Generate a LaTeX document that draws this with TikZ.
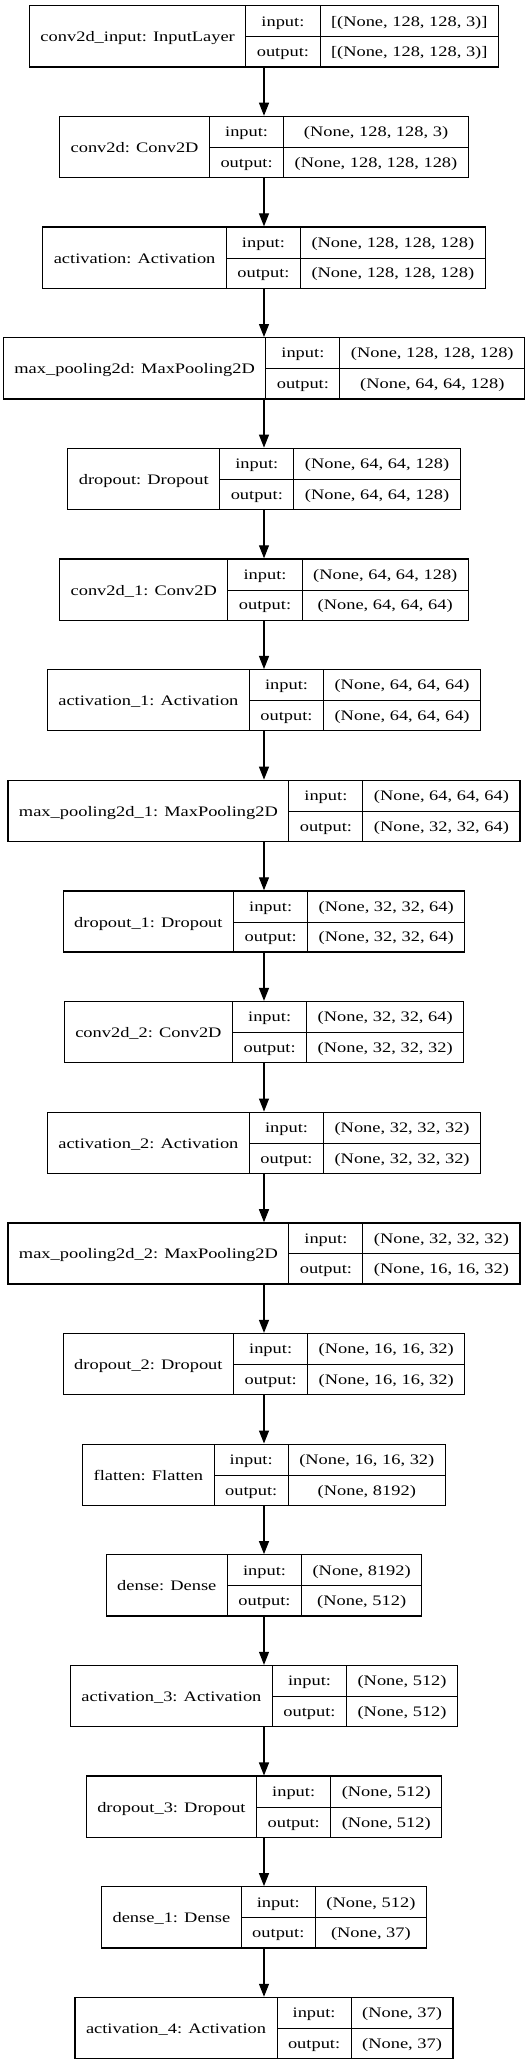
\documentclass[tikz,border=0pt]{standalone}
\usepackage{fontspec}
\setmainfont[FakeStretch=1.27]{Liberation Serif}
\usetikzlibrary{arrows.meta}
\setlength{\tabcolsep}{11pt}
\setlength{\arrayrulewidth}{1pt}
\def\rowstrut{\rule[-10.3pt]{0pt}{30.6pt}}
\def\layer#1#2#3{\begin{tabular}{c|c|c}
 & input:\rowstrut & #2 \\ \cline{2-3}
\raisebox{14.8pt}[0pt][0pt]{#1} & output:\rowstrut & #3
\end{tabular}}

\begin{document}
\begin{tikzpicture}[x=1pt, y=-1pt, font=\fontsize{14.5}{17.4}\selectfont,
  layer/.style={draw, line width=1.3pt, inner sep=0pt},
  arr/.style={line width=1.2pt, -{Triangle[length=13pt,width=10pt]}}]
	%%%%% START %%%%%
	\useasboundingbox[fill=white] (0, 0) rectangle (529, 2065);
	
	\node[layer] (inp) at (264, 36.3) {\layer{conv2d\_input: InputLayer}{[(None, 128, 128, 3)]}{[(None, 128, 128, 3)]}};
	\node[layer] (conv) at (264, 146.95) {\layer{conv2d: Conv2D}{(None, 128, 128, 3)}{(None, 128, 128, 128)}};
	\node[layer] (act) at (264, 257.6) {\layer{activation: Activation}{(None, 128, 128, 128)}{(None, 128, 128, 128)}};
	\node[layer] (pool) at (264, 368.25) {\layer{max\_pooling2d: MaxPooling2D}{(None, 128, 128, 128)}{(None, 64, 64, 128)}};
	\node[layer] (drop) at (264, 478.9) {\layer{dropout: Dropout}{(None, 64, 64, 128)}{(None, 64, 64, 128)}};
	
	\node[layer] (conv1) at (264, 589.55) {\layer{conv2d\_1: Conv2D}{(None, 64, 64, 128)}{(None, 64, 64, 64)}};
	\node[layer] (act1) at (264, 700.2) {\layer{activation\_1: Activation}{(None, 64, 64, 64)}{(None, 64, 64, 64)}};
	\node[layer] (pool1) at (264, 810.85) {\layer{max\_pooling2d\_1: MaxPooling2D}{(None, 64, 64, 64)}{(None, 32, 32, 64)}};
	\node[layer] (drop1) at (264, 921.5) {\layer{dropout\_1: Dropout}{(None, 32, 32, 64)}{(None, 32, 32, 64)}};
	
	\node[layer] (conv2) at (264, 1032.15) {\layer{conv2d\_2: Conv2D}{(None, 32, 32, 64)}{(None, 32, 32, 32)}};
	\node[layer] (act2) at (264, 1142.8) {\layer{activation\_2: Activation}{(None, 32, 32, 32)}{(None, 32, 32, 32)}};
	\node[layer] (pool2) at (264, 1253.45) {\layer{max\_pooling2d\_2: MaxPooling2D}{(None, 32, 32, 32)}{(None, 16, 16, 32)}};
	\node[layer] (drop2) at (264, 1364.1) {\layer{dropout\_2: Dropout}{(None, 16, 16, 32)}{(None, 16, 16, 32)}};
	
	\node[layer] (flat) at (264, 1474.75) {\layer{flatten: Flatten}{(None, 16, 16, 32)}{(None, 8192)}};
	\node[layer] (dense) at (264, 1585.4) {\layer{dense: Dense}{(None, 8192)}{(None, 512)}};
	\node[layer] (act3) at (264, 1696.05) {\layer{activation\_3: Activation}{(None, 512)}{(None, 512)}};
	\node[layer] (drop3) at (264, 1806.7) {\layer{dropout\_3: Dropout}{(None, 512)}{(None, 512)}};
	\node[layer] (dense1) at (264, 1917.35) {\layer{dense\_1: Dense}{(None, 512)}{(None, 37)}};
	\node[layer] (act4) at (264, 2028.0) {\layer{activation\_4: Activation}{(None, 37)}{(None, 37)}};
	
	\draw[arr] (inp.south) -- (conv.north);
	\draw[arr] (conv.south) -- (act.north);
	\draw[arr] (act.south) -- (pool.north);
	\draw[arr] (pool.south) -- (drop.north);
	\draw[arr] (drop.south) -- (conv1.north);
	\draw[arr] (conv1.south) -- (act1.north);
	\draw[arr] (act1.south) -- (pool1.north);
	\draw[arr] (pool1.south) -- (drop1.north);
	\draw[arr] (drop1.south) -- (conv2.north);
	\draw[arr] (conv2.south) -- (act2.north);
	\draw[arr] (act2.south) -- (pool2.north);
	\draw[arr] (pool2.south) -- (drop2.north);
	\draw[arr] (drop2.south) -- (flat.north);
	\draw[arr] (flat.south) -- (dense.north);
	\draw[arr] (dense.south) -- (act3.north);
	\draw[arr] (act3.south) -- (drop3.north);
	\draw[arr] (drop3.south) -- (dense1.north);
	\draw[arr] (dense1.south) -- (act4.north);
	
	%%%%% END %%%%%
\end{tikzpicture}
\end{document}
